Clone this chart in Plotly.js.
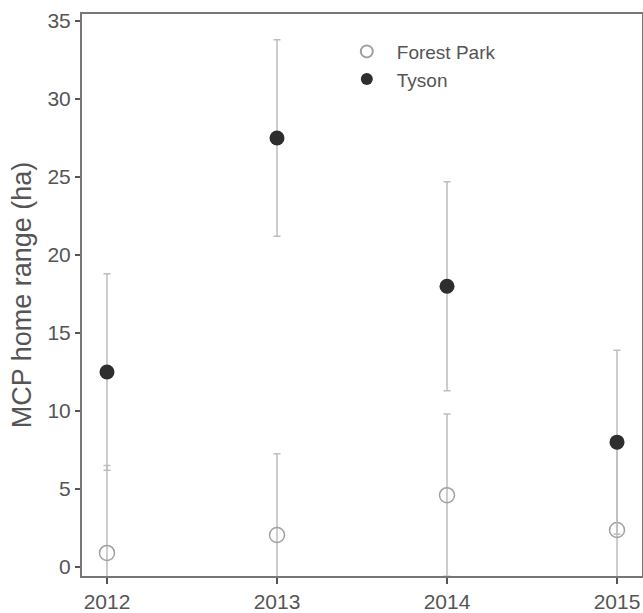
<!DOCTYPE html>
<html>
<head>
<meta charset="utf-8">
<script src="https://cdn.plot.ly/plotly-3.0.1.min.js"></script>
<style>html,body{margin:0;padding:0;background:#fff;}#chart{width:643px;height:613px;}</style>
</head>
<body>
<div id="chart"></div>
<script>
const years = [2012, 2013, 2014, 2015];
const tickLabels = ["2012", "2013", "2014", "2015"];
const forestParkMean = [0.9, 2.05, 4.6, 2.37];
const forestParkErr = [5.6, 5.2, 5.2, 5.8];
const tysonMean = [12.5, 27.5, 18.0, 8.0];
const tysonErr = [6.3, 6.3, 6.7, 5.9];

const errStyle = {color: '#bdbdbd', thickness: 1.5, width: 3.5};

const traces = [
  {
    x: years, y: forestParkMean, name: 'Forest Park', type: 'scatter', mode: 'markers',
    marker: {symbol: 'circle-open', size: 15, color: '#a0a0a0', line: {width: 1.5, color: '#a0a0a0'}},
    error_y: Object.assign({type: 'data', array: forestParkErr, visible: true}, errStyle)
  },
  {
    x: years, y: tysonMean, name: 'Tyson', type: 'scatter', mode: 'markers',
    marker: {symbol: 'circle', size: 15, color: '#2e2e2e'},
    error_y: Object.assign({type: 'data', array: tysonErr, visible: true}, errStyle)
  }
];

const layout = {
  width: 643, height: 613,
  margin: {l: 82, r: 1, t: 14, b: 37},
  paper_bgcolor: '#ffffff', plot_bgcolor: '#ffffff',
  font: {family: 'Liberation Sans, Arial, sans-serif', color: '#555', size: 20},
  showlegend: true,
  legend: {x: 0.455, y: 0.967, xanchor: 'left', yanchor: 'top', bgcolor: 'rgba(0,0,0,0)',
           font: {size: 19, color: '#555'}, itemsizing: 'constant', itemwidth: 50, tracegroupgap: 0},
  xaxis: {
    range: [2011.853, 2015.147], tickvals: years, ticktext: tickLabels,
    showgrid: false, zeroline: false, showline: true, linecolor: '#777', linewidth: 2, mirror: true,
    ticks: 'outside', ticklen: 6, tickcolor: '#555', tickwidth: 1.5,
    tickfont: {size: 21, color: '#555'}
  },
  yaxis: {
    range: [-0.58, 35.45], dtick: 5, tick0: 0,
    showgrid: false, zeroline: false, showline: true, linecolor: '#777', linewidth: 2, mirror: true,
    ticks: 'outside', ticklen: 5, tickcolor: '#555', tickwidth: 1.5,
    tickfont: {size: 21, color: '#555'},
    title: {text: 'MCP home range (ha)', font: {size: 27, color: '#555'}, standoff: 8}
  }
};

Plotly.newPlot('chart', traces, layout, {displayModeBar: false, staticPlot: true});
</script>
</body>
</html>
